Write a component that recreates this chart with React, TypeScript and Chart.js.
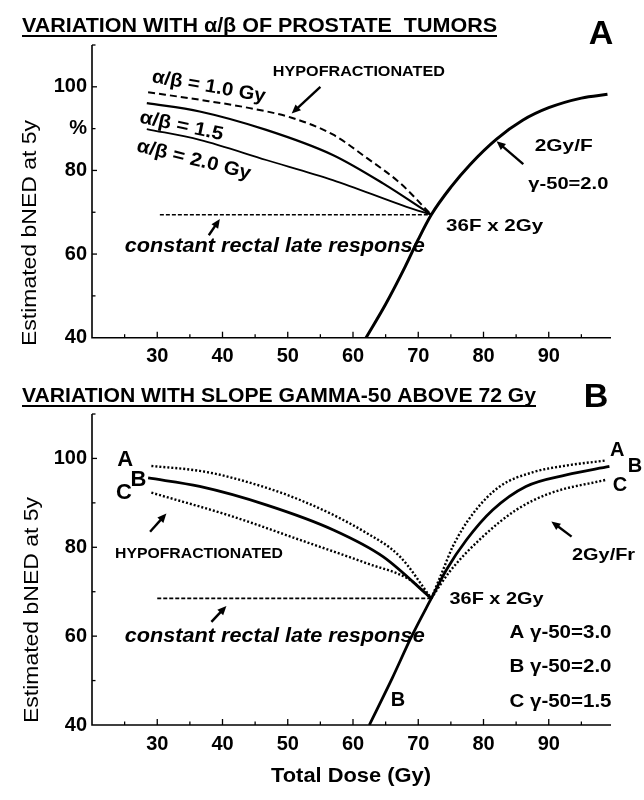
import React, { useEffect, useRef } from "react";
import { Chart, registerables } from "chart.js";

Chart.register(...registerables);

const SANS = "'Liberation Sans', Arial, Helvetica, sans-serif";
const NARROW = "'Liberation Sans Narrow', 'Liberation Sans', Arial, sans-serif";

// ---------- axes ----------
const DOSE_MIN = 20;
const DOSE_MAX = 100;
const DOSE_STEP = 5;
const xTickValues = [30, 40, 50, 60, 70, 80, 90];
const BNED_MIN = 40;
const BNED_MAX = 110;
const BNED_STEP = 10;
const yTickValuesA = [40, 60, 80, 90, 100];
const yTickTextA = ["40", "60", "80", "%", "100"];
const yTickValuesB = [40, 60, 80, 100];
const yTickTextB = ["40", "60", "80", "100"];

// ---------- panel A data ----------
const doseAb10 = [28.6, 36.5, 44.2, 50.6, 56.9, 62.1, 67.2, 72];
const bnedAb10 = [98.7, 96.9, 94.9, 92.6, 88.6, 83.0, 77.0, 69.4];
const doseAb15 = [28.4, 36.5, 46.7, 56.9, 64.6, 72];
const bnedAb15 = [96.1, 94.1, 89.7, 83.7, 76.9, 69.4];
const doseAb20 = [28.4, 36.5, 46.7, 56.9, 68.2, 72];
const bnedAb20 = [89.9, 87.3, 82.5, 77.7, 71.3, 69.4];
const doseRectalA = [30.4, 72];
const bnedRectalA = [69.4, 69.4];
const doseStdA = [62, 65, 68, 70, 72, 75, 78, 82, 86, 90, 95, 99];
const bnedStdA = [40, 48, 57, 63.5, 69.4, 76, 81.5, 87.5, 92, 95, 97.3, 98.2];

// ---------- panel B data ----------
const doseHypoA = [29.1, 36.5, 41.6, 51.8, 62.1, 67.2, 72];
const bnedHypoA = [98.3, 97.2, 95.6, 90.7, 83.2, 77.9, 68.5];
const doseHypoB = [28.6, 36.5, 46.8, 57.0, 64.6, 72];
const bnedHypoB = [95.6, 93.7, 89.5, 83.9, 77.9, 68.5];
const doseHypoC = [29.1, 41.6, 51.8, 62.1, 68.7, 72];
const bnedHypoC = [92.3, 86.9, 81.7, 76.4, 72.7, 68.5];
const doseStdBA = [72, 73.8, 75.3, 78.4, 82.5, 87.6, 92.7, 98.6];
const bnedStdBA = [68.5, 74.9, 80.2, 87.6, 93.7, 96.9, 98.4, 99.5];
const doseStdBB = [62.5, 66, 69, 72, 74.3, 77.4, 81.4, 86.5, 92.7, 99.3];
const bnedStdBB = [40, 50.5, 60, 68.5, 74.9, 81.7, 88.4, 93.7, 96.3, 98.2];
const doseStdBC = [72, 74.8, 79.9, 85.0, 90.1, 98.8];
const bnedStdBC = [68.5, 74.5, 82.4, 88.4, 92.1, 95.2];
const doseRectalB = [30, 72];
const bnedRectalB = [68.5, 68.5];

type TextItem = {
  text: string;
  x: number;
  y: number;
  size: number;
  w?: number;
  rot?: number;
  italic?: boolean;
  weight?: string;
  family?: string;
  align?: CanvasTextAlign;
  base?: CanvasTextBaseline;
  px?: boolean; // pixel coordinates instead of data coordinates
  underline?: number; // y offset of underline (pixels)
};
type ArrowItem = { x1: number; y1: number; x2: number; y2: number };

const pts = (xs: number[], ys: number[]) => xs.map((x, i) => ({ x, y: ys[i] }));

function drawText(ctx: CanvasRenderingContext2D, t: TextItem, x: number, y: number) {
  ctx.save();
  ctx.translate(x, y);
  if (t.rot) ctx.rotate((t.rot * Math.PI) / 180);
  ctx.font = `${t.italic ? "italic " : ""}${t.weight || "bold"} ${t.size}px ${t.family || SANS}`;
  ctx.textAlign = t.align || "center";
  ctx.textBaseline = t.base || "middle";
  let sx = 1;
  const m = ctx.measureText(t.text).width;
  if (t.w) sx = t.w / m;
  ctx.scale(sx, 1);
  ctx.fillText(t.text, 0, 0);
  ctx.restore();
  if (t.underline !== undefined) {
    const w = t.w || m;
    const x0 = t.align === "left" ? x : x - w / 2;
    ctx.save();
    ctx.lineWidth = 1.8;
    ctx.beginPath();
    ctx.moveTo(x0, y + t.underline);
    ctx.lineTo(x0 + w, y + t.underline);
    ctx.stroke();
    ctx.restore();
  }
}

function drawArrow(ctx: CanvasRenderingContext2D, x1: number, y1: number, x2: number, y2: number) {
  const ang = Math.atan2(y2 - y1, x2 - x1);
  const hl = 9;
  const hw = 4;
  ctx.save();
  ctx.lineWidth = 2.4;
  ctx.beginPath();
  ctx.moveTo(x1, y1);
  ctx.lineTo(x2 - Math.cos(ang) * hl * 0.8, y2 - Math.sin(ang) * hl * 0.8);
  ctx.stroke();
  ctx.beginPath();
  ctx.moveTo(x2, y2);
  ctx.lineTo(x2 - Math.cos(ang) * hl - Math.sin(ang) * hw, y2 - Math.sin(ang) * hl + Math.cos(ang) * hw);
  ctx.lineTo(x2 - Math.cos(ang) * hl + Math.sin(ang) * hw, y2 - Math.sin(ang) * hl - Math.cos(ang) * hw);
  ctx.closePath();
  ctx.fill();
  ctx.restore();
}

function makeDecor(texts: TextItem[], arrows: ArrowItem[]) {
  return {
    id: "decor",
    afterDraw(chart: any) {
      const ctx: CanvasRenderingContext2D = chart.ctx;
      const xs = chart.scales.x;
      const ys = chart.scales.y;
      const { left, right, top, bottom } = chart.chartArea;
      ctx.save();
      ctx.strokeStyle = "#000";
      ctx.fillStyle = "#000";
      ctx.lineWidth = 1.6;
      ctx.beginPath();
      ctx.moveTo(left, top);
      ctx.lineTo(left, bottom);
      ctx.lineTo(right - 3, bottom);
      ctx.stroke();
      ctx.lineWidth = 1.3;
      xs.ticks.forEach((t: any) => {
        const v = t.value;
        if (v <= DOSE_MIN || v >= DOSE_MAX) return;
        const p = xs.getPixelForValue(v);
        const len = v % 10 === 0 ? 6 : 3.5;
        ctx.beginPath();
        ctx.moveTo(p, bottom);
        ctx.lineTo(p, bottom - len);
        ctx.stroke();
      });
      ys.ticks.forEach((t: any) => {
        const v = t.value;
        if (v <= BNED_MIN) return;
        const p = ys.getPixelForValue(v);
        const len = v % 20 === 0 ? 5 : 3.5;
        ctx.beginPath();
        ctx.moveTo(left, p);
        ctx.lineTo(left + len, p);
        ctx.stroke();
      });
      texts.forEach((t) => {
        const x = t.px ? t.x : xs.getPixelForValue(t.x);
        const y = t.px ? t.y : ys.getPixelForValue(t.y);
        drawText(ctx, t, x, y);
      });
      arrows.forEach((a) => {
        drawArrow(
          ctx,
          xs.getPixelForValue(a.x1),
          ys.getPixelForValue(a.y1),
          xs.getPixelForValue(a.x2),
          ys.getPixelForValue(a.y2)
        );
      });
      ctx.restore();
    },
  };
}

type PanelProps = {
  height: number;
  padTop: number;
  xHeight: number;
  datasets: any[];
  yTickValues: number[];
  yTickText: string[];
  texts: TextItem[];
  arrows: ArrowItem[];
};

function Panel(props: PanelProps) {
  const ref = useRef<HTMLCanvasElement | null>(null);
  useEffect(() => {
    if (!ref.current) return;
    const chart = new Chart(ref.current, {
      type: "line",
      data: { datasets: props.datasets },
      options: {
        responsive: false,
        animation: false,
        devicePixelRatio: 1,
        layout: { padding: { top: props.padTop, right: 30, left: 0, bottom: 0 } },
        plugins: { legend: { display: false }, tooltip: { enabled: false }, title: { display: false } },
        elements: { point: { radius: 0 } },
        scales: {
          x: {
            type: "linear",
            min: DOSE_MIN,
            max: DOSE_MAX,
            grid: { display: false, drawTicks: false },
            border: { display: false },
            afterFit: (s: any) => {
              s.height = props.xHeight;
            },
            ticks: {
              stepSize: DOSE_STEP,
              autoSkip: false,
              maxRotation: 0,
              padding: 7,
              color: "#000",
              font: { family: SANS, size: 20, weight: "bold" },
              callback: (v: any) => (xTickValues.includes(v) ? String(v) : ""),
            },
          },
          y: {
            type: "linear",
            min: BNED_MIN,
            max: BNED_MAX,
            grid: { display: false, drawTicks: false },
            border: { display: false },
            afterFit: (s: any) => {
              s.width = 92;
            },
            ticks: {
              stepSize: BNED_STEP,
              autoSkip: false,
              padding: 5,
              color: "#000",
              font: { family: SANS, size: 20, weight: "bold" },
              callback: (v: any) => {
                const i = props.yTickValues.indexOf(v);
                return i >= 0 ? props.yTickText[i] : "";
              },
            },
          },
        },
      },
      plugins: [makeDecor(props.texts, props.arrows)],
    } as any);
    return () => chart.destroy();
  }, []);
  return <canvas ref={ref} width={644} height={props.height} style={{ display: "block" }} />;
}

const line = (data: any[], width: number, dash: number[] = []) => ({
  data,
  borderColor: "#000",
  borderWidth: width,
  borderDash: dash,
  borderCapStyle: "butt",
  fill: false,
  pointRadius: 0,
  cubicInterpolationMode: "monotone",
});

export default function App() {
  const datasetsA = [
    line(pts(doseAb10, bnedAb10), 2, [7, 4]),
    line(pts(doseAb15, bnedAb15), 2.2),
    line(pts(doseAb20, bnedAb20), 1.8),
    line(pts(doseRectalA, bnedRectalA), 1.6, [4, 2]),
    line(pts(doseStdA, bnedStdA), 3),
  ];
  const textsA: TextItem[] = [
    { text: "VARIATION WITH α/β OF PROSTATE  TUMORS", x: 22, y: 32, px: true, size: 20, w: 475, align: "left", base: "alphabetic", family: NARROW, underline: 4 },
    { text: "A", x: 601, y: 44, px: true, size: 34, base: "alphabetic" },
    { text: "Estimated bNED at 5y", x: 30, y: 233, px: true, size: 21, w: 226, rot: -90, weight: "normal" },
    { text: "α/β = 1.0 Gy", x: 37.9, y: 100.0, size: 19, w: 115, rot: 10, family: NARROW },
    { text: "α/β = 1.5", x: 33.7, y: 90.6, size: 19, w: 85, rot: 12, family: NARROW },
    { text: "α/β = 2.0 Gy", x: 35.6, y: 82.5, size: 19, w: 117, rot: 14, family: NARROW },
    { text: "HYPOFRACTIONATED", x: 60.9, y: 103.6, size: 15, w: 172, family: NARROW },
    { text: "constant rectal late response", x: 48.0, y: 61.8, size: 20, w: 300, italic: true },
    { text: "36F x 2Gy", x: 81.7, y: 66.6, size: 17, w: 97, family: NARROW },
    { text: "2Gy/F", x: 92.3, y: 85.7, size: 17, w: 58, family: NARROW },
    { text: "γ-50=2.0", x: 93.0, y: 76.7, size: 17, w: 80, family: NARROW },
  ];
  const arrowsA: ArrowItem[] = [
    { x1: 55.0, y1: 100.0, x2: 50.6, y2: 93.6 },
    { x1: 37.9, y1: 64.5, x2: 39.6, y2: 68.4 },
    { x1: 86.1, y1: 81.5, x2: 82.0, y2: 87.0 },
  ];

  const datasetsB = [
    line(pts(doseHypoA, bnedHypoA), 2.4, [2, 2]),
    line(pts(doseHypoB, bnedHypoB), 2.8),
    line(pts(doseHypoC, bnedHypoC), 2.4, [2, 2]),
    line(pts(doseStdBA, bnedStdBA), 2.4, [2, 2]),
    line(pts(doseStdBB, bnedStdBB), 2.8),
    line(pts(doseStdBC, bnedStdBC), 2.4, [2, 2]),
    line(pts(doseRectalB, bnedRectalB), 1.6, [4, 2]),
  ];
  const textsB: TextItem[] = [
    { text: "VARIATION WITH SLOPE GAMMA-50 ABOVE 72 Gy", x: 22, y: 32, px: true, size: 20, w: 514, align: "left", base: "alphabetic", family: NARROW, underline: 4 },
    { text: "B", x: 596, y: 37, px: true, size: 34, base: "alphabetic" },
    { text: "Estimated bNED at 5y", x: 32, y: 240, px: true, size: 21, w: 226, rot: -90, weight: "normal" },
    { text: "Total Dose (Gy)", x: 351, y: 406, px: true, size: 21, w: 160 },
    { text: "A", x: 25.1, y: 99.6, size: 22 },
    { text: "B", x: 27.1, y: 95.1, size: 22 },
    { text: "C", x: 24.9, y: 92.3, size: 22 },
    { text: "HYPOFRACTIONATED", x: 36.4, y: 78.6, size: 15, w: 168, family: NARROW },
    { text: "constant rectal late response", x: 48.0, y: 60.0, size: 20, w: 300, italic: true },
    { text: "B", x: 66.9, y: 45.6, size: 20 },
    { text: "36F x 2Gy", x: 82.0, y: 68.3, size: 17, w: 94, family: NARROW },
    { text: "A γ-50=3.0", x: 91.8, y: 60.8, size: 19, w: 102, family: NARROW },
    { text: "B γ-50=2.0", x: 91.8, y: 53.1, size: 19, w: 102, family: NARROW },
    { text: "C γ-50=1.5", x: 91.8, y: 45.2, size: 19, w: 102, family: NARROW },
    { text: "2Gy/Fr", x: 98.4, y: 78.3, size: 17, w: 63, family: NARROW },
    { text: "A", x: 100.5, y: 101.7, size: 20 },
    { text: "B", x: 103.2, y: 98.1, size: 20 },
    { text: "C", x: 100.9, y: 94.0, size: 20 },
  ];
  const arrowsB: ArrowItem[] = [
    { x1: 28.9, y1: 83.5, x2: 31.4, y2: 87.6 },
    { x1: 38.3, y1: 63.2, x2: 40.6, y2: 66.8 },
    { x1: 93.5, y1: 82.4, x2: 90.4, y2: 85.8 },
  ];

  return (
    <div style={{ position: "absolute", left: 0, top: 0, width: 644, height: 800, background: "#fff" }}>
      <Panel
        height={370}
        padTop={45}
        xHeight={32.3}
        datasets={datasetsA}
        yTickValues={yTickValuesA}
        yTickText={yTickTextA}
        texts={textsA}
        arrows={arrowsA}
      />
      <Panel
        height={430}
        padTop={44}
        xHeight={75}
        datasets={datasetsB}
        yTickValues={yTickValuesB}
        yTickText={yTickTextB}
        texts={textsB}
        arrows={arrowsB}
      />
    </div>
  );
}
